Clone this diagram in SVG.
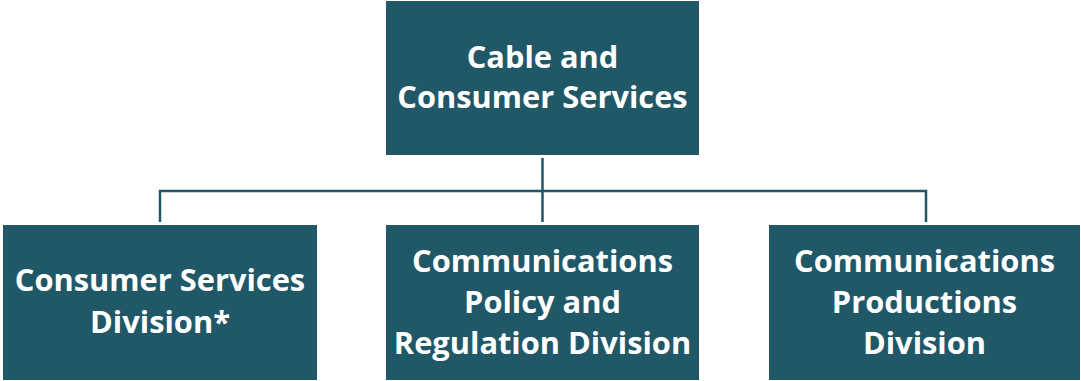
<svg xmlns="http://www.w3.org/2000/svg" width="1081" height="381" viewBox="0 0 1081 381">
<style>
.box{fill:#215868;}
.t{font-family:"Open Sans","Liberation Sans",sans-serif;font-weight:bold;font-size:30.8px;fill:#ffffff;text-anchor:middle;}
.c{stroke:#215868;stroke-width:2.5;fill:none;}
</style>
<rect width="1081" height="381" fill="#ffffff"/>
<g id="connectors">
<line class="c" x1="542.5" y1="158" x2="542.5" y2="222"/>
<polyline class="c" points="160,222 160,191 926,191 926,222"/>
</g>
<g id="node-cable">
<rect class="box" x="386" y="1" width="313" height="154"/>
<text class="t" x="542.5" y="68">Cable and</text>
<text class="t" x="542.5" y="108">Consumer Services</text>
</g>
<g id="node-consumer">
<rect class="box" x="3" y="225" width="314" height="155"/>
<text class="t" x="160" y="291">Consumer Services</text>
<text class="t" x="160" y="333">Division*</text>
</g>
<g id="node-policy">
<rect class="box" x="386" y="225" width="313" height="155"/>
<text class="t" x="542.5" y="272">Communications</text>
<text class="t" x="542.5" y="313">Policy and</text>
<text class="t" x="542.5" y="354">Regulation Division</text>
</g>
<g id="node-productions">
<rect class="box" x="769" y="225" width="311" height="155"/>
<text class="t" x="924.5" y="272">Communications</text>
<text class="t" x="924.5" y="313">Productions</text>
<text class="t" x="924.5" y="354">Division</text>
</g>
</svg>
